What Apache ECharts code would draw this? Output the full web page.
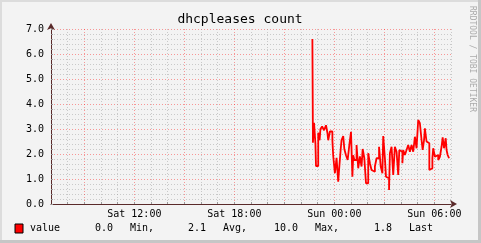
<!DOCTYPE html>
<html><head><meta charset="utf-8">
<script src="https://cdn.jsdelivr.net/npm/echarts@6/dist/echarts.min.js"></script>
<style>html,body{margin:0;padding:0;background:#f3f3f3;}#c{width:481px;height:243px;}</style>
</head><body><div id="c"></div>
<script>
// Sample times (Sat evening -> Sun morning) and values
const times = ["22:41","22:43","22:47","22:52","22:54","23:02","23:07","23:10","23:16","23:23","23:30","23:35","23:38","23:44","23:53","23:56",
"00:02","00:08","00:14","00:18","00:23","00:26","00:32","00:36","00:42","00:48","00:54","01:00","01:05","01:08","01:12","01:20","01:26","01:32","01:38","01:42","01:48","01:54",
"02:02","02:08","02:14","02:20","02:26","02:32","02:41","02:47","02:53","02:56","03:02","03:06","03:12","03:17","03:20","03:26","03:32","03:38","03:44","03:50","03:54",
"04:00","04:05","04:08","04:14","04:20","04:26","04:32","04:38","04:44","04:50","04:56","05:02","05:08","05:14","05:18","05:23","05:26","05:32","05:38","05:42","05:48","05:53","05:56",
"06:02","06:08","06:14","06:20","06:26","06:30","06:35","06:38","06:41","06:44","06:48","06:53","06:54"];
const values = [6.6,2.45,3.25,2.4,1.52,2.85,2.55,3.0,3.1,2.95,3.15,2.85,2.55,2.9,2.55,1.92,
1.23,1.85,0.89,1.5,2.2,2.56,2.72,2.2,1.95,1.76,2.36,2.89,1.09,1.95,1.76,2.36,1.43,1.9,1.5,2.2,1.83,0.83,
2.03,1.63,1.36,1.29,1.5,1.83,2.29,1.5,1.23,2.72,1.83,1.09,1.03,0.56,2.03,2.29,1.16,2.29,2.09,1.16,2.16,
2.09,1.63,2.16,1.96,2.16,2.36,2.09,2.36,2.09,2.69,2.23,3.36,3.23,2.56,2.16,2.56,3.03,2.5,2.43,1.36,1.43,1.83,2.23,
1.89,1.96,1.76,1.89,2.29,2.67,2.23,2.16,2.63,2.16,1.96,1.83,1.83];
const xLabels = {720:"Sat 12:00",1080:"Sat 18:00",1440:"Sun 00:00",1800:"Sun 06:00"};
const yTicks = ["0.0","1.0","2.0","3.0","4.0","5.0","6.0","7.0"];
const legendStats = [["0.0","Min,"],["2.1","Avg,"],["10.0","Max,"],["1.8","Last"]];

function toMin(t){const p=t.split(":");let h=+p[0],m=+p[1];let v=h*60+m;if(h<7)v+=1440;return v;}
const data = times.map((t,i)=>[toMin(t),values[i]]);

const FONT='"DejaVu Sans Mono", monospace';
const chart = echarts.init(document.getElementById('c'),null,{renderer:'canvas'});
const minorGrey='rgba(150,150,150,0.45)', majorRed='rgba(255,0,0,0.38)';
const axisCol='#5a2a2a';
const statX=[[95,130],[188,223],[274,315],[374,409]];
const g=[
 {type:'rect',shape:{x:0,y:0,width:481,height:243},style:{fill:'#f3f3f3'},z:-10},
 {type:'rect',shape:{x:0,y:0,width:481,height:2},style:{fill:'#dcdcdc'}},
 {type:'rect',shape:{x:0,y:0,width:2,height:243},style:{fill:'#dcdcdc'}},
 {type:'rect',shape:{x:478,y:0,width:3,height:243},style:{fill:'#c6c6c6'}},
 {type:'rect',shape:{x:0,y:240,width:481,height:3},style:{fill:'#c6c6c6'}},
 {type:'text',x:240,y:13,style:{text:'dhcpleases count',font:'13px '+FONT,fill:'#000',textAlign:'center'}},
 {type:'text',x:476,y:6,rotation:-Math.PI/2,style:{text:'RRDTOOL / TOBI OETIKER',font:'8px '+FONT,fill:'#ababab'}},
 {type:'rect',shape:{x:15,y:224,width:8,height:9},style:{fill:'#ff0000',stroke:'#000',lineWidth:1}},
 {type:'text',x:30,y:223,style:{text:'value',font:'10px '+FONT,fill:'#000'}}
];
legendStats.forEach((s,i)=>{
 g.push({type:'text',x:statX[i][0],y:223,style:{text:s[0],font:'10px '+FONT,fill:'#000'}});
 g.push({type:'text',x:statX[i][1],y:223,style:{text:s[1],font:'10px '+FONT,fill:'#000'}});
});
chart.setOption({
 animation:false,
 backgroundColor:'#f3f3f3',
 grid:{left:51,top:29,right:30,bottom:39,containLabel:false},
 xAxis:{type:'value',min:420,max:1860,interval:60,
  axisLine:{show:true,lineStyle:{color:axisCol,width:1},symbol:['none','arrow'],symbolSize:[6,7],symbolOffset:[0,6]},
  axisTick:{show:true,length:2,inside:true,lineStyle:{color:'#999'}},
  axisLabel:{margin:5,fontFamily:FONT,fontSize:10,color:'#000',showMinLabel:false,showMaxLabel:false,
   formatter:v=>xLabels[v]||''},
  splitLine:{show:true,lineStyle:{type:[1,2],width:1,color:[minorGrey,minorGrey,majorRed]}}
 },
 yAxis:{type:'value',min:0,max:7,interval:0.2,
  axisLine:{show:true,lineStyle:{color:axisCol,width:1},symbol:['none','arrow'],symbolSize:[6,7],symbolOffset:[0,6]},
  axisTick:{show:true,length:2,inside:true,lineStyle:{color:'#999'}},
  axisLabel:{margin:7,fontFamily:FONT,fontSize:10,color:'#000',
   formatter:v=>{const r=Math.round(v);return Math.abs(v-r)<1e-6?yTicks[r]:'';}},
  splitLine:{show:true,lineStyle:{type:[1,2],width:1,color:[majorRed,minorGrey,minorGrey,minorGrey,minorGrey]}}
 },
 series:[{type:'line',data:data,step:'end',showSymbol:false,symbol:'none',
  lineStyle:{color:'#ff0000',width:1.8},z:5}],
 graphic:g
});
</script></body></html>
